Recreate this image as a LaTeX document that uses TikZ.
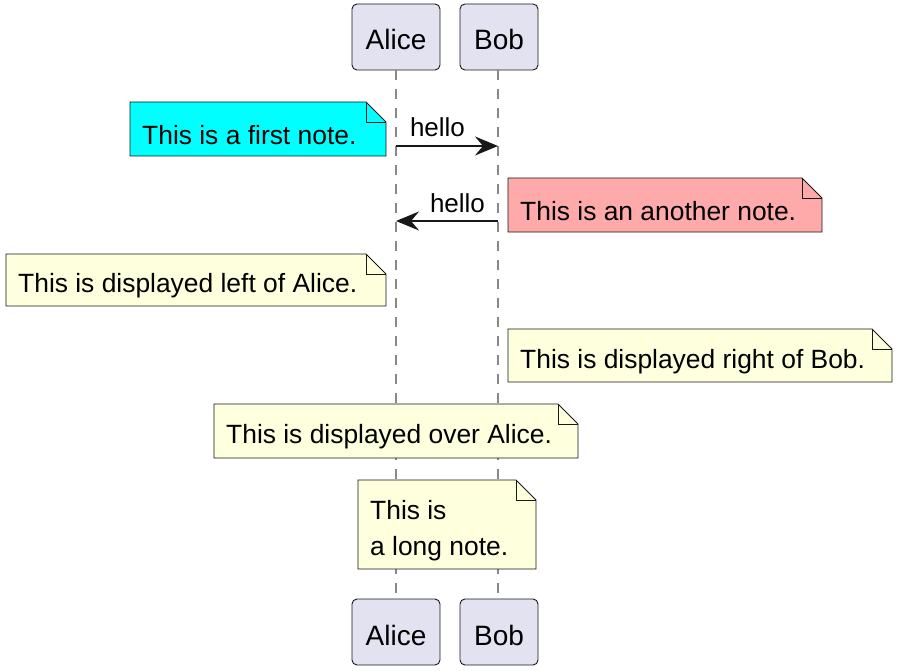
\documentclass[tikz,border=0pt]{standalone}
\usepackage{fontspec}
\setmainfont{Liberation Sans}
\usetikzlibrary{arrows.meta}
\definecolor{partfill}{HTML}{E2E2F0}
\definecolor{notefill}{HTML}{FEFFDD}
\definecolor{bord}{HTML}{181818}
\definecolor{lifegray}{HTML}{888888}
\definecolor{rednote}{HTML}{FFAAAA}
\definecolor{cyannote}{HTML}{00FFFF}
\newcommand\umlnote[7]{%
  \filldraw[notebox, fill=#6] (#2,#3) -- ({#4-20},#3) -- (#4,{#3+20}) -- (#4,#5) -- (#2,#5) -- cycle;
  \draw[notebox] ({#4-20},#3) -- ({#4-20},{#3+20}) -- (#4,{#3+20});
  \node[notetext] (#1) at ({#2+12},{(#3+#5)/2+6}) {#7};
}
\begin{document}
\begin{tikzpicture}[x=1pt,y=-1pt]
\tikzset{
  part/.style={draw=bord, fill=partfill, rounded corners=5pt, line width=0.9pt,
    minimum height=66pt, inner sep=0pt, text height=26pt, text depth=0pt,
    font=\fontsize{28}{30}\selectfont},
  lifeline/.style={draw=lifegray, dash pattern=on 10pt off 9pt, line width=1.7pt},
  msg/.style={line width=2pt, draw=bord, -{Stealth[length=23pt, width=19pt, inset=8pt]}},
  msglabel/.style={font=\fontsize{26}{30}\selectfont, inner sep=0pt},
  notebox/.style={draw=bord, line width=0.9pt, line join=miter},
  notetext/.style={font=\fontsize{26.4}{36}\selectfont, anchor=west, inner sep=0pt, align=left},
}
\useasboundingbox (0,0) rectangle (899,671);
% participants
\node[part, minimum width=88pt] (aliceT) at (396,37) {Alice};
\node[part, minimum width=78pt] (bobT) at (499,37) {Bob};
\node[part, minimum width=88pt] (aliceB) at (396,632) {Alice};
\node[part, minimum width=78pt] (bobB) at (499,632) {Bob};
% lifelines
\draw[lifeline] (aliceT.south) -- (aliceB.north);
\draw[lifeline] ([xshift=-1pt]bobT.south) -- ([xshift=-1pt]bobB.north);
% notes
\umlnote{n1}{130}{102}{386}{156}{cyannote}{This is a first note.}
\umlnote{n2}{508}{178}{822}{232}{rednote}{This is an another note.}
\umlnote{n3}{6}{254}{386}{306}{notefill}{This is displayed left of Alice.}
\umlnote{n4}{508}{329}{892}{382}{notefill}{This is displayed right of Bob.}
\umlnote{n5}{214}{404}{578}{458}{notefill}{This is displayed over Alice.}
\umlnote{n6}{358}{480}{536}{569}{notefill}{This is\\a long note.}
% messages
\coordinate (m1a) at (aliceT.south |- 0,146);
\coordinate (m1b) at ([xshift=-1pt]bobT.south |- 0,146);
\draw[msg] (m1a) -- (m1b);
\node[msglabel] (l1) at (437.5,127) {hello};
\coordinate (m2a) at ([xshift=-1pt]bobT.south |- 0,221);
\coordinate (m2b) at (aliceT.south |- 0,221);
\draw[msg] (m2a) -- (m2b);
\node[msglabel] (l2) at (457.5,203) {hello};
\end{tikzpicture}
\end{document}
